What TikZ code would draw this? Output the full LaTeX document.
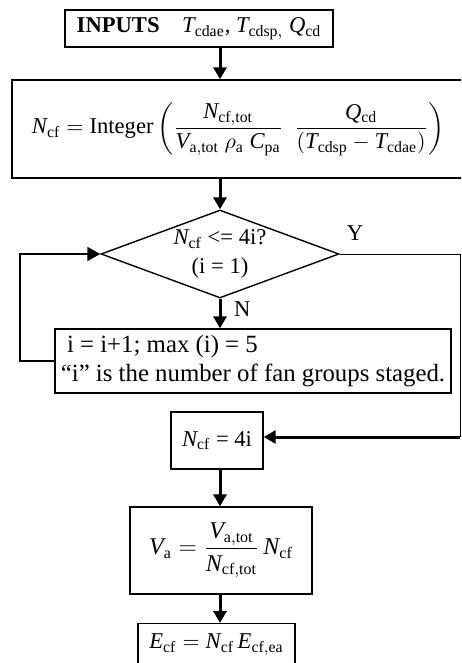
\documentclass[tikz,border=0pt]{standalone}
\usepackage{amsmath}
\usepackage{fontspec}
\setmainfont{Liberation Serif}
\usepackage{tikz}
\usetikzlibrary{shapes.geometric, arrows.meta, positioning, calc}

\newcommand{\qty}[2]{\mathit{#1}_{\mathrm{#2}}}

\begin{document}
\begin{tikzpicture}[
  x=0.5pt, y=-0.5pt,
  font=\fontsize{11.3}{14.5}\selectfont,
  blk/.style={rectangle, draw, line width=0.7pt, inner sep=0pt, align=center},
  dec/.style={diamond, draw, line width=0.7pt, inner sep=0pt, aspect=2.7, minimum width=119pt, minimum height=44pt, align=center},
  arr/.style={-{Triangle[length=6pt, width=6.5pt]}, line width=1.5pt},
  back/.style={-{Triangle[length=6.5pt, width=7pt]}, line width=1pt},
  yes/.style={line width=0.5pt},
]
\useasboundingbox (0,0) rectangle (461,663);
\clip (0,0) rectangle (461,663);

% Top: inputs
\node[blk, minimum width=134pt, minimum height=18.5pt] (inputs) at (199,28.5)
  {\textbf{INPUTS}\quad $\qty{T}{cdae}$, $\qty{T}{cdsp,}$ $\qty{Q}{cd}$};

% Number of fans from the load
\node[blk, minimum width=229pt, minimum height=49pt, inner xsep=10pt, align=left] (nfan) at (241,129)
  {\makebox[209pt][l]{$\qty{N}{cf} = \mathrm{Integer}\left(\dfrac{\qty{N}{cf,tot}}{\qty{V}{a,tot}\ \rho_{\mathrm{a}}\ \qty{C}{pa}}\ \ \dfrac{\qty{Q}{cd}}{(\qty{T}{cdsp} - \qty{T}{cdae})}\right)$}};

% Decision
\node[dec] (test) at (220,254) {$\qty{N}{cf}$ <= 4i?\\(i = 1)};

% Loop: next fan group
\node[blk, minimum width=198pt, minimum height=32pt, align=left, font=\fontsize{12.4}{14.5}\selectfont] (incr) at (253,361)
  {\ i = i+1; max (i) = 5\\“i” is the number of fan groups staged.};

% Bottom chain
\node[blk, minimum width=46pt, minimum height=28.5pt] (ncf) at (217,440.5) {$\qty{N}{cf}$ = 4i};
\node[blk, minimum width=91pt, minimum height=43.5pt, font=\fontsize{12}{14.5}\selectfont] (va) at (221,550.5)
  {$\qty{V}{a} = \dfrac{\qty{V}{a,tot}}{\qty{N}{cf,tot}}\,\qty{N}{cf}$};
\node[blk, anchor=north, minimum width=78.5pt, inner ysep=4.5pt, text height=8pt, text depth=20pt] (ecf) at (216.5,623)
  {$\qty{E}{cf} = \qty{N}{cf}\,\qty{E}{cf,ea}$};

\coordinate (ycol) at (460,437);

% Straight arrows down the middle
\draw[arr] (inputs.south -| test.north) -- (nfan.north -| test.north);
\draw[arr] (nfan.south -| test.north) -- (test.north);
\draw[arr] (test.south) -- (incr.north -| test.south) node[right, pos=0.35, xshift=3pt] {N};
\draw[arr] (ncf.south -| test.south) -- (va.north -| test.south);
\draw[arr] (va.south -| test.south) -- (ecf.north -| test.south);

% Y branch: out the right side, back in to ncf
\draw[yes] (test.east) node[above right, yshift=3pt] {Y} -| (ycol);
\draw[arr] (ycol) -- (ncf.east |- ycol);

% N branch loops back to the decision
\draw[back] (incr.west) -- ++(-34,0) |- (test.west);
\end{tikzpicture}
\end{document}
